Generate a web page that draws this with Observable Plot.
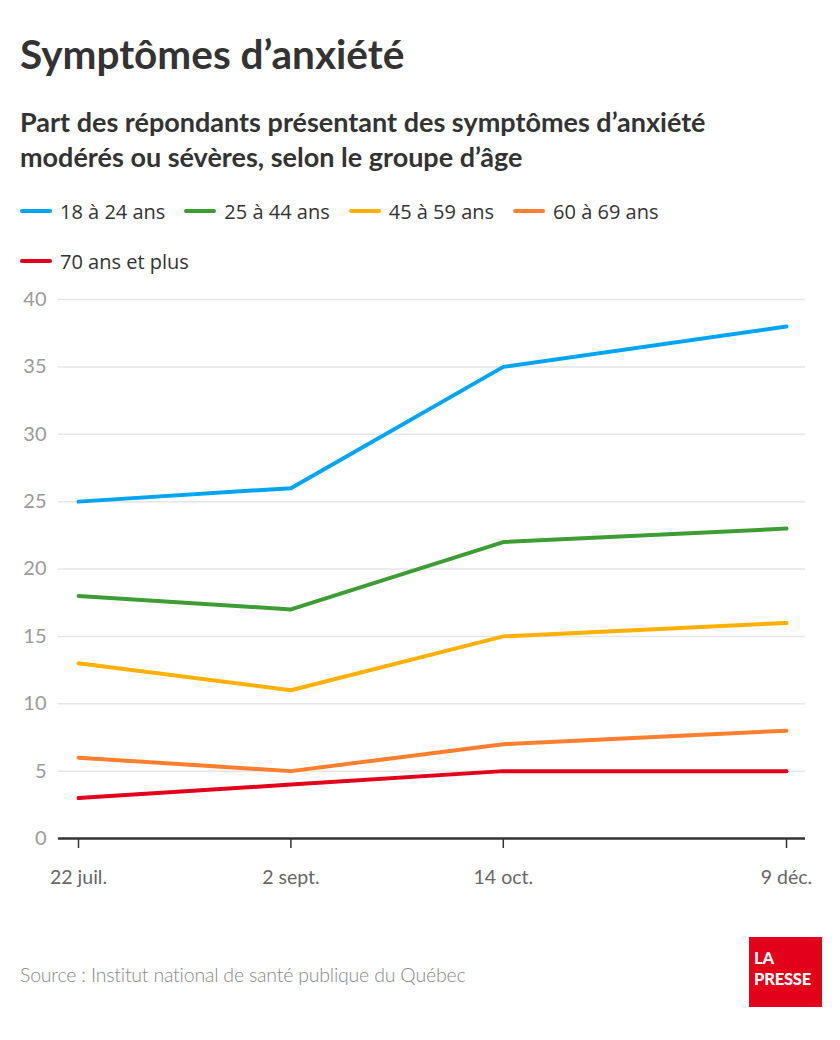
<!DOCTYPE html>
<html>
<head>
<meta charset="utf-8">
<script src="https://cdn.jsdelivr.net/npm/d3@7"></script>
<script src="https://cdn.jsdelivr.net/npm/@observablehq/plot@0.6"></script>
<style>
  html, body { margin: 0; padding: 0; background: #fff; }
  #page { position: relative; width: 840px; height: 1040px; overflow: hidden; background: #fff; }
  .abs { position: absolute; white-space: nowrap; }
  #title { left: 20px; top: 34px; font: 700 40.5px/40px Lato, sans-serif; color: #333; }
  #subtitle { left: 20px; top: 104px; font: 700 27px/35px Lato, sans-serif; color: #333; }
  #legend { left: 20px; top: 197px; width: 700px; display: flex; flex-wrap: wrap; row-gap: 22px; column-gap: 19px; }
  .item { display: flex; align-items: center; height: 28px; font: 400 20px "Open Sans", sans-serif; color: #333; }
  .sw { width: 32px; height: 4px; border-radius: 2px; margin-right: 8px; }
  #chart { left: 0; top: 280px; }
  #source { left: 20px; top: 963px; font: 300 19.5px/24px Lato, sans-serif; color: #888; letter-spacing: -0.2px; }
  #logo { left: 749px; top: 937px; width: 73px; height: 70px; background: #e2001a; }
  #logo div { position: absolute; left: 5px; color: #fff; font: 900 16.5px/20px Lato, sans-serif; letter-spacing: -0.2px; }
</style>
</head>
<body>
<div id="page">
  <div id="title" class="abs">Symptômes d’anxiété</div>
  <div id="subtitle" class="abs">Part des répondants présentant des symptômes d’anxiété<br>modérés ou sévères, selon le groupe d’âge</div>
  <div id="legend" class="abs"></div>
  <div id="chart" class="abs"></div>
  <div id="source" class="abs">Source : Institut national de santé publique du Québec</div>
  <div id="logo" class="abs"><div style="top:11px">LA</div><div style="top:32px">PRESSE</div></div>
</div>
<script>
// ---- Data ----
const dates = ["2020-07-22", "2020-09-02", "2020-10-14", "2020-12-09"];
const dateLabels = ["22 juil.", "2 sept.", "14 oct.", "9 déc."];
const groups = ["18 à 24 ans", "25 à 44 ans", "45 à 59 ans", "60 à 69 ans", "70 ans et plus"];
const colors = ["#00a5f2", "#3e9c35", "#ffb000", "#ff7f2f", "#e2001a"];
const values18_24 = [25, 26, 35, 38];
const values25_44 = [18, 17, 22, 23];
const values45_59 = [13, 11, 15, 16];
const values60_69 = [6, 5, 7, 8];
const values70plus = [3, 4, 5, 5];
const yTicks = [0, 5, 10, 15, 20, 25, 30, 35, 40];

const seriesValues = [values18_24, values25_44, values45_59, values60_69, values70plus];
const dateObjs = dates.map(d => new Date(d + "T00:00:00Z"));
const rows = [];
groups.forEach((g, gi) => {
  seriesValues[gi].forEach((v, i) => rows.push({group: g, date: dateObjs[i], value: v}));
});

// ---- Legend ----
const legend = document.getElementById("legend");
groups.forEach((g, i) => {
  const it = document.createElement("div");
  it.className = "item";
  const sw = document.createElement("span");
  sw.className = "sw";
  sw.style.background = colors[i];
  it.appendChild(sw);
  it.appendChild(document.createTextNode(g));
  legend.appendChild(it);
});

const labelFor = d => dateLabels[dateObjs.findIndex(x => +x === +d)];

const chart = Plot.plot({
  width: 840,
  height: 640,
  marginLeft: 78,
  marginRight: 54,
  marginTop: 19,
  marginBottom: 82,
  x: {type: "utc", domain: [dateObjs[0], dateObjs[dateObjs.length - 1]], label: null},
  y: {domain: [0, 40], label: null},
  color: {domain: groups, range: colors},
  marks: [
    Plot.ruleY(yTicks.filter(t => t > 0), {stroke: "#e6e6e6", strokeWidth: 1.5, insetLeft: -20, insetRight: -19}),
    Plot.axisY({ticks: yTicks, tickSize: 0, tickPadding: 32, fontSize: 20, fontFamily: "Lato, sans-serif", color: "#9a9a9a", label: null}),
    Plot.ruleY([0], {stroke: "#333", strokeWidth: 2.5, insetLeft: -20, insetRight: -19}),
    Plot.axisX({ticks: dateObjs, tickSize: 10, tickFormat: () => "", stroke: "#333", strokeWidth: 1.5, label: null}),
    Plot.axisX({ticks: dateObjs, tickSize: 0, tickPadding: 32, tickFormat: labelFor, fontSize: 19.5, fontFamily: "Lato, sans-serif", color: "#666", label: null}),
    Plot.line(rows, {x: "date", y: "value", stroke: "group", z: "group", strokeWidth: 4, strokeLinecap: "round", strokeLinejoin: "round"})
  ]
});
document.getElementById("chart").appendChild(chart);
</script>
</body>
</html>
